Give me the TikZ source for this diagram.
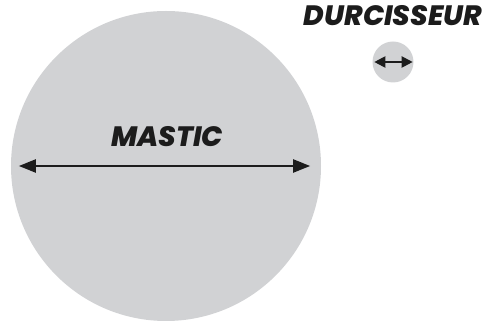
\documentclass[tikz,border=0pt]{standalone}
\usepackage{fontspec}
\setmainfont{Poppins}[BoldItalicFont={Poppins ExtraBold Italic}]
\usepackage{tikz}
\usetikzlibrary{arrows.meta, positioning}

\definecolor{blobgray}{HTML}{D1D2D4}
\definecolor{inkblack}{HTML}{1C1C1C}

\begin{document}
\begin{tikzpicture}[x=1pt, y=1pt,
  blob/.style = {circle, fill=blobgray, inner sep=0pt},
  lbl/.style = {font=\fontsize{28}{28}\selectfont\bfseries\itshape, text=inkblack, inner sep=0pt},
  span/.style = {draw=inkblack, line width=2pt}]
\useasboundingbox (0,0) rectangle (485,321);

\node[blob, minimum size=310pt] (mastic) at (166,155) {};
\node[blob, minimum size=41pt] (durc) at (393,259) {};

\node[lbl] (lm) at (167,184) {MASTIC};
\node[lbl] (ld) at (393,305) {DURCISSEUR};

\draw[span, {Triangle[length=17pt,width=13pt]}-{Triangle[length=17pt,width=13pt]}]
  ([xshift=8pt]mastic.west) -- ([xshift=-11pt]mastic.east);
\draw[span, {Triangle[length=11pt,width=11pt]}-{Triangle[length=11pt,width=11pt]}]
  ([xshift=2pt]durc.west) -- ([xshift=-1pt]durc.east);
\end{tikzpicture}
\end{document}
